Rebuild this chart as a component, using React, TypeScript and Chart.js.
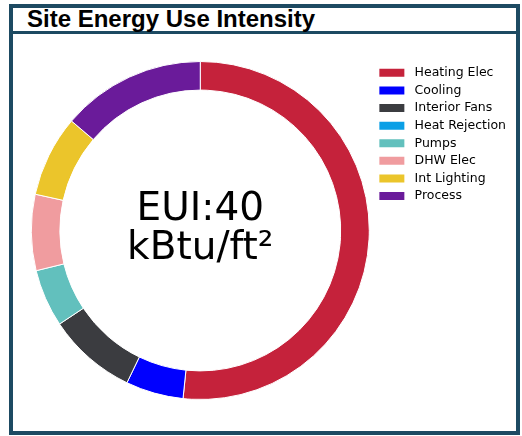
import React, { useEffect, useRef } from "react";
import { Chart, registerables } from "chart.js";

Chart.register(...registerables);

const title = "Site Energy Use Intensity";
const categories = [
  "Heating Elec",
  "Cooling",
  "Interior Fans",
  "Heat Rejection",
  "Pumps",
  "DHW Elec",
  "Int Lighting",
  "Process",
];
const values = [20.6, 2.2, 3.4, 0, 2.2, 2.9, 3.1, 5.5];
const colors = [
  "#c5223b",
  "#0000ff",
  "#3b3c40",
  "#0a9fe6",
  "#62c0bd",
  "#f09c9f",
  "#ebc52b",
  "#6a1b9a",
];
const centerLines = ["EUI:40", "kBtu/ft²"];

const FRAME = "#1d4a62";

const centerTextPlugin = {
  id: "centerText",
  afterDraw(chart: any) {
    const arc = chart.getDatasetMeta(0).data[0];
    if (!arc) return;
    const { x, y } = arc;
    const ctx = chart.ctx;
    ctx.save();
    ctx.font = '39px "DejaVu Sans"';
    ctx.fillStyle = "#000";
    ctx.textAlign = "center";
    ctx.textBaseline = "alphabetic";
    ctx.fillText(centerLines[0], x, y - 10.5);
    ctx.fillText(centerLines[1], x, y + 28);
    ctx.restore();
  },
};

export default function App() {
  const ref = useRef<HTMLCanvasElement>(null);
  useEffect(() => {
    if (!ref.current) return;
    const base = (Chart as any).overrides.doughnut.plugins.legend.labels.generateLabels;
    const chart = new Chart(ref.current, {
      type: "doughnut",
      data: {
        labels: categories,
        datasets: [
          {
            data: values,
            backgroundColor: colors,
            borderColor: "#ffffff",
            borderWidth: 1,
            hoverOffset: 0,
          },
        ],
      },
      options: {
        animation: false,
        responsive: false,
        devicePixelRatio: 1,
        radius: 169,
        cutout: 140,
        layout: { padding: { left: 13.3, top: 26.5, bottom: 31.5, right: 0 } },
        plugins: {
          tooltip: { enabled: false },
          legend: {
            position: "right",
            align: "start",
            labels: {
              boxWidth: 25,
              boxHeight: 8,
              padding: 5.1,
              color: "#000",
              font: { family: '"DejaVu Sans"', size: 12.5 },
              generateLabels(c: any) {
                return base(c).map((it: any) => ({ ...it, text: " " + it.text, lineWidth: 0 }));
              },
            },
          },
        },
      } as any,
      plugins: [centerTextPlugin],
    });
    return () => chart.destroy();
  }, []);

  return (
    <div
      style={{
        position: "fixed",
        left: 0,
        top: 0,
        width: 522,
        height: 436,
        background: "#fff",
        overflow: "hidden",
      }}
    >
      <div
        style={{
          position: "absolute",
          left: 9,
          top: 4,
          width: 511,
          height: 431,
          boxSizing: "border-box",
          border: `4px solid ${FRAME}`,
        }}
      />
      <div
        style={{
          position: "absolute",
          left: 9,
          top: 31,
          width: 511,
          height: 3,
          background: FRAME,
        }}
      />
      <div
        style={{
          position: "absolute",
          left: 27,
          top: 7,
          fontFamily: '"Liberation Sans", Arial, sans-serif',
          fontWeight: "bold",
          fontSize: 24,
          lineHeight: "24px",
          color: "#000",
          whiteSpace: "nowrap",
        }}
      >
        {title}
      </div>
      <div
        style={{
          position: "absolute",
          left: 13,
          top: 35,
          width: 492,
          height: 396,
          overflow: "hidden",
        }}
      >
        <canvas ref={ref} width={503} height={396} style={{ display: "block" }} />
      </div>
    </div>
  );
}
